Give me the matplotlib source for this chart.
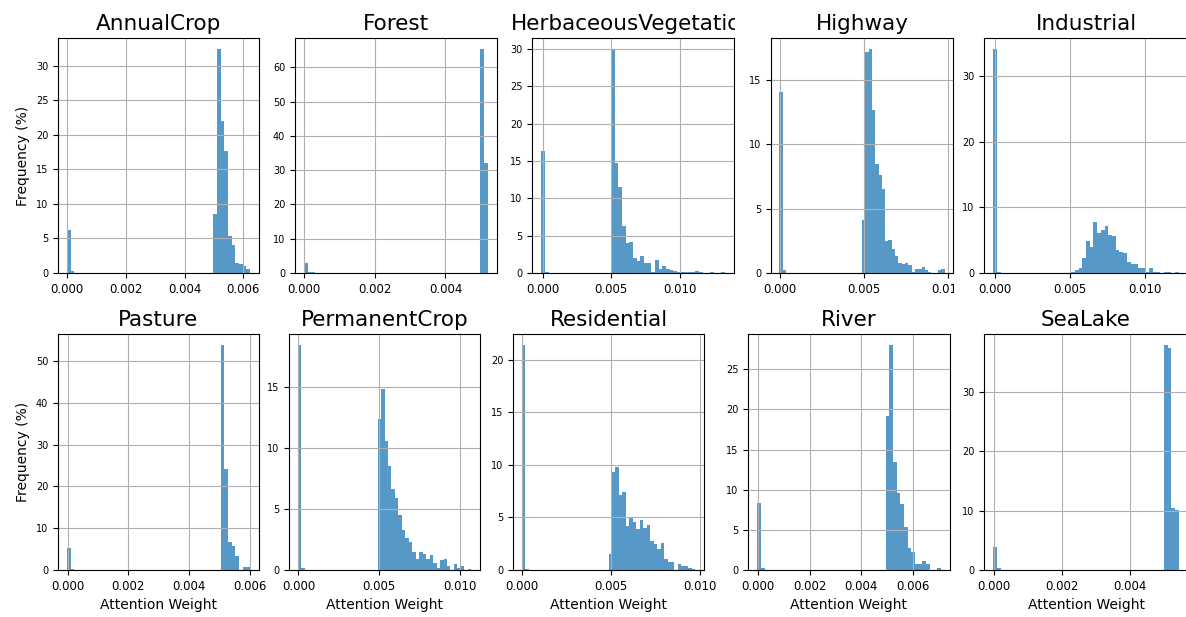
import numpy as np
import matplotlib.pyplot as plt
from matplotlib.ticker import MaxNLocator
from matplotlib.transforms import Bbox, TransformedBbox

# class names, one histogram each
classes = ["AnnualCrop", "Forest", "HerbaceousVegetation", "Highway", "Industrial",
           "Pasture", "PermanentCrop", "Residential", "River", "SeaLake"]

# range of attention weights per class (histogram spans lo..hi in 50 bins)
x_min = [0.0, 0.0, -0.0001, -0.00004, -0.0001, -0.00002, -0.00005, 0.0, -0.00004, -0.00003]
x_max = [0.00622, 0.0052, 0.0133, 0.00983, 0.01226, 0.00601, 0.0107, 0.00975, 0.0071, 0.00542]

# frequency (%) of the first bins (weights near zero)
near_zero = [
    [6.2, 0.3],
    [3.0, 0.3, 0.3],
    [16.4, 0.2],
    [14.1, 0.2],
    [34.1, 0.2],
    [5.2, 0.3],
    [18.4, 0.2],
    [21.4, 0.1],
    [8.3, 0.3],
    [3.8, 0.4],
]

# frequency (%) of the last bins (main peak up to the max weight)
main_peak = [
    [8.6, 32.4, 22.0, 17.6, 5.4, 4.1, 1.5, 1.3, 1.0, 0.6],
    [65.3, 32.1],
    [30.0, 14.7, 11.5, 6.3, 4.0, 4.1, 2.0, 1.6, 2.3, 1.4, 1.3, 0.1, 1.7, 0.6, 1.0, 0.5,
     0.4, 0.3, 0.1, 0.1, 0.1, 0.1, 0.1, 0.3, 0.2, 0.05, 0, 0.1, 0.05, 0, 0.1],
    [4.1, 17.2, 17.4, 12.7, 8.5, 7.6, 6.5, 2.5, 2.6, 1.9, 1.3, 0.8, 0.7, 0.8, 0.6, 0.1,
     0.3, 0.3, 0.45, 0.2, 0.05, 0, 0, 0.2, 0.3],
    [0.15, 0.5, 0.8, 2.3, 4.9, 4.0, 7.8, 6.1, 6.6, 7.1, 5.8, 5.6, 3.5, 3.2, 3.0, 1.6,
     1.3, 1.4, 0.7, 0.8, 0.2, 0.8, 0.2, 0.2, 0, 0.1, 0.1, 0, 0.1],
    [53.8, 24.2, 6.8, 5.8, 3.3, 0, 0.8, 0.8],
    [12.4, 14.8, 10.6, 8.5, 6.6, 5.9, 4.5, 3.3, 2.6, 2.3, 1.5, 0.9, 1.5, 1.3, 0.9, 1.2,
     0.6, 0.2, 0.8, 0.9, 0.3, 0, 0.5, 0.2, 0.3, 0, 0.1],
    [1.5, 9.3, 9.8, 7.1, 7.4, 4.2, 5.0, 4.6, 3.9, 4.8, 4.0, 4.3, 2.8, 2.5, 2.0, 2.6,
     1.0, 0.8, 0.8, 0, 0.6, 0.4, 0.4, 0.2, 0.1],
    [19.2, 28.0, 13.5, 9.6, 8.2, 5.3, 2.8, 2.2, 0.7, 0.7, 1.1, 0.7, 0, 0, 0.3],
    [37.9, 37.5, 10.4, 10.2],
]

N_BINS = 50
W, H = 1186, 617

fig = plt.figure(figsize=(W / 100, H / 100), dpi=100)

# panel boxes in pixels: each subplot was cropped separately, so widths differ
row_top = [38, 334]
row_bottom = [273, 570]
col_lr = [
    [(58, 259), (295, 497), (532, 734), (771, 953), (984, 1188)],
    [(58, 259), (289, 480), (513, 704), (748, 950), (984, 1188)],
]


def clip_right(artist, x_px):
    # hide whatever sticks out past x_px (like the cropped original)
    box = TransformedBbox(Bbox.from_extents(0, 0, x_px / W, 1), fig.transFigure)
    artist.set_clip_on(True)
    artist.set_clip_box(box)


axes = []
for i, name in enumerate(classes):
    r, c = divmod(i, 5)
    left, right = col_lr[r][c]
    ax = fig.add_axes([left / W, 1 - row_bottom[r] / H,
                       (right - left) / W, (row_bottom[r] - row_top[r]) / H])

    n_mid = N_BINS - len(near_zero[i]) - len(main_peak[i])
    heights = near_zero[i] + [0] * n_mid + main_peak[i]
    edges = np.linspace(x_min[i], x_max[i], N_BINS + 1)
    ax.hist(edges[:-1], bins=edges, weights=heights, color="#1f77b4", alpha=0.75)

    ax.xaxis.set_major_locator(MaxNLocator(nbins=4, steps=[1, 2, 2.5, 5, 10]))
    ax.yaxis.set_major_locator(MaxNLocator(nbins=7, steps=[1, 2, 2.5, 5, 10]))
    ax.grid(True)
    ax.set_title(name, fontsize=15.5)
    ax.tick_params(axis="x", labelsize=8.5)
    ax.tick_params(axis="y", labelsize=7)
    if c == 0:
        ax.set_ylabel("Frequency (%)")
    if r == 1:
        ax.set_xlabel("Attention Weight")
    axes.append(ax)

fig.canvas.draw()
clip_right(axes[2].title, 735)
for t in axes[3].xaxis.get_major_ticks():
    clip_right(t.label1, 954)

fig.savefig("out.png", dpi=100, facecolor="white")
